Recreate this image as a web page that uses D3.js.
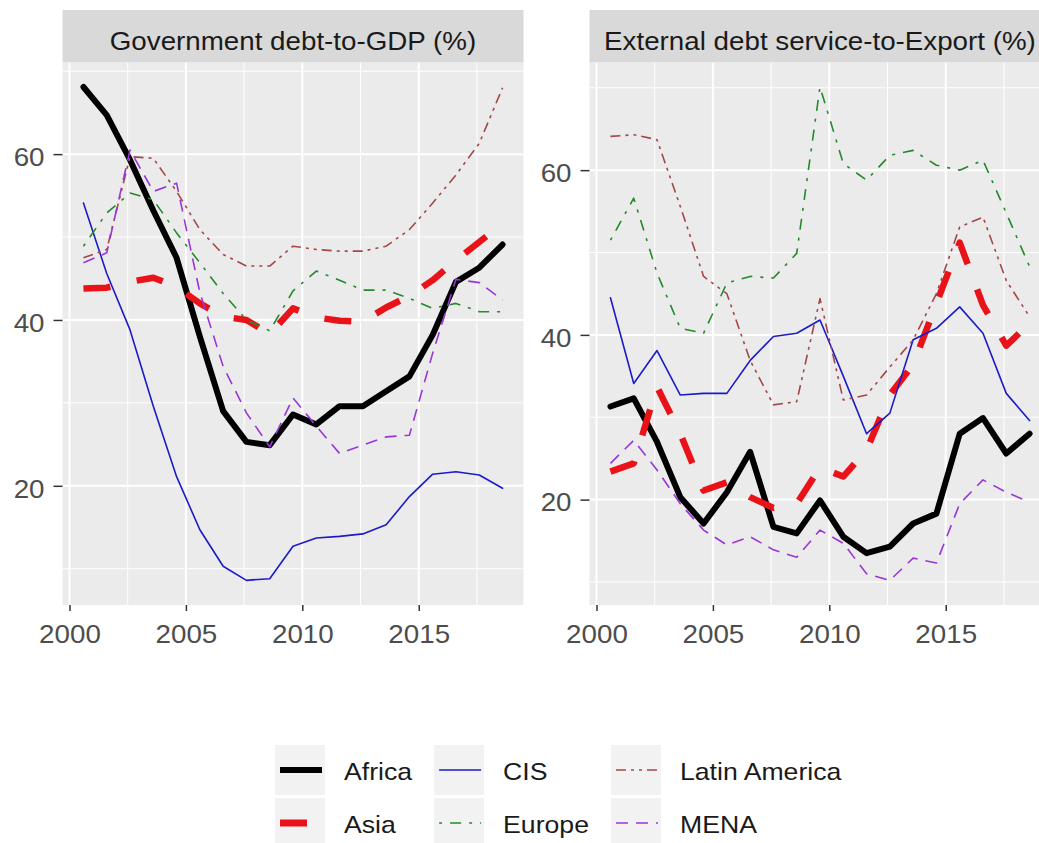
<!DOCTYPE html>
<html>
<head>
<meta charset="utf-8">
<script src="https://cdn.jsdelivr.net/npm/d3@7"></script>
<style>
  body { margin: 0; background: #ffffff; }
  text { font-family: "Liberation Sans", Arial, sans-serif; }
</style>
</head>
<body>
<svg id="chart" width="1039" height="843"></svg>
<script>
// ---- data -------------------------------------------------------------
const years = d3.range(2000, 2019);                 // 2000 ... 2018
const regions = ["Africa", "Asia", "CIS", "Europe", "Latin America", "MENA"];
const panelTitles = ["Government debt-to-GDP (%)", "External debt service-to-Export (%)"];
const xTicks = [2000, 2005, 2010, 2015];
const xMinorTicks = [2002.5, 2007.5, 2012.5, 2017.5];
const yTicks = [20, 40, 60];
const yMinorTicks = [10, 30, 50, 70];

// Government debt-to-GDP (%)
const debtAfrica = [68.1, 64.7, 59.3, 53.2, 47.5, 38.0, 29.0, 25.3, 24.9, 28.6, 27.4, 29.6, 29.6, 31.4, 33.2, 38.2, 44.6, 46.3, 49.1];
const debtAsia   = [43.8, 43.9, 44.6, 45.1, 44.0, 42.0, 40.4, 40.0, 38.3, 41.4, 40.3, 39.9, 39.8, 41.5, 42.9, 44.8, 47.2, 49.4, 51.6];
const debtCIS    = [54.1, 45.6, 38.8, 29.6, 21.1, 14.7, 10.3, 8.6, 8.8, 12.7, 13.7, 13.9, 14.2, 15.3, 18.7, 21.4, 21.7, 21.3, 19.7];
const debtEurope = [48.9, 52.9, 55.3, 54.5, 50.5, 46.9, 43.2, 40.0, 38.7, 43.5, 45.9, 44.8, 43.6, 43.6, 42.6, 41.4, 42.0, 41.0, 41.0];
const debtLatin  = [47.5, 48.5, 59.7, 59.5, 55.5, 50.9, 47.9, 46.5, 46.5, 48.9, 48.5, 48.3, 48.3, 48.9, 50.9, 54.1, 57.5, 61.3, 68.0];
const debtMENA   = [46.9, 48.1, 60.5, 55.5, 56.5, 43.3, 34.4, 28.8, 24.7, 30.6, 27.2, 23.9, 24.9, 25.9, 26.1, 36.0, 44.9, 44.5, 42.4];

// External debt service-to-Export (%)
const servAfrica = [31.3, 32.3, 27.0, 20.3, 17.1, 20.9, 25.8, 16.7, 15.9, 19.9, 15.5, 13.5, 14.3, 17.1, 18.3, 28.0, 29.9, 25.6, 28.0];
const servAsia   = [23.4, 24.4, 33.7, 28.0, 21.1, 22.1, 20.3, 19.0, 19.5, 23.9, 22.8, 26.0, 32.7, 36.4, 43.8, 51.2, 43.6, 38.7, 41.4];
const servCIS    = [44.5, 34.1, 38.1, 32.7, 32.9, 32.9, 36.9, 39.8, 40.2, 41.8, 35.0, 28.0, 30.5, 39.4, 40.8, 43.4, 40.2, 32.9, 29.6];
const servEurope = [51.5, 56.6, 47.5, 40.8, 40.2, 46.3, 47.1, 46.9, 49.9, 70.1, 60.8, 58.8, 61.8, 62.4, 60.6, 60.0, 61.2, 54.8, 48.3];
const servLatin  = [64.1, 64.3, 63.7, 55.6, 47.1, 45.0, 36.9, 31.5, 31.9, 44.4, 32.1, 32.7, 36.1, 39.4, 45.0, 53.1, 54.3, 46.6, 42.2];
const servMENA   = [24.4, 27.2, 23.6, 19.5, 16.3, 14.5, 15.5, 13.9, 13.0, 16.3, 14.7, 11.0, 10.2, 12.9, 12.3, 19.5, 22.4, 20.9, 19.7];

// ---- styles -----------------------------------------------------------
const styles = {
  "Africa":        { color: "#000000", width: 6,   dash: null,             cap: "round" },
  "Asia":          { color: "#ea1219", width: 6.5, dash: "27,27",          cap: "butt"  },
  "CIS":           { color: "#1b1bc9", width: 1.6, dash: null,             cap: "round" },
  "Europe":        { color: "#23892a", width: 1.6, dash: "3,8,11,8",       cap: "butt"  },
  "Latin America": { color: "#a24848", width: 1.6, dash: "10,5,3,5,3,5",   cap: "butt"  },
  "MENA":          { color: "#9a36d8", width: 1.6, dash: "12,8",           cap: "butt"  }
};

const panels = [
  { title: panelTitles[0], series: [debtAfrica, debtAsia, debtCIS, debtEurope, debtLatin, debtMENA] },
  { title: panelTitles[1], series: [servAfrica, servAsia, servCIS, servEurope, servLatin, servMENA] }
];

// ---- layout -----------------------------------------------------------
const SX = 1.11;                 // horizontal glyph stretch of the text
const stripTop = 10, panelTop = 62.3, panelBottom = 605;
const panelLefts = [62.5, 589.5], panelWidth = 461;
const obsOffset = 0.6;           // observations fall part-way through each year

const svg = d3.select("#chart");
svg.append("rect").attr("width", 1039).attr("height", 843).attr("fill", "#ffffff");

function stretch(sel) {
  sel.each(function () {
    const t = d3.select(this);
    const x = +t.attr("x") || 0;
    t.attr("x", x / SX).attr("transform", `scale(${SX},1)`);
  });
}

// ggplot-style 5% expansion of the data range
function expanded(lo, hi) {
  const pad = (hi - lo) * 0.05;
  return [lo - pad, hi + pad];
}

const xObs = years.map(y => y + obsOffset);
const xDomain = expanded(d3.min(xObs), d3.max(xObs));

panels.forEach((p, pi) => {
  const left = panelLefts[pi];
  const x = d3.scaleLinear().domain(xDomain).range([left, left + panelWidth]);
  const all = p.series.flat();
  const y = d3.scaleLinear().domain(expanded(d3.min(all), d3.max(all))).range([panelBottom, panelTop]);

  const g = svg.append("g");

  // panel background
  g.append("rect")
    .attr("x", left).attr("y", panelTop)
    .attr("width", panelWidth).attr("height", panelBottom - panelTop)
    .attr("fill", "#ebebeb");

  // minor grid
  g.selectAll(".gx-minor").data(xMinorTicks).join("line")
    .attr("class", "gx-minor")
    .attr("x1", d => x(d)).attr("x2", d => x(d))
    .attr("y1", panelTop).attr("y2", panelBottom)
    .attr("stroke", "#ffffff").attr("stroke-width", 1);
  g.selectAll(".gy-minor").data(yMinorTicks.filter(v => v > y.domain()[0] && v < y.domain()[1])).join("line")
    .attr("class", "gy-minor")
    .attr("x1", left).attr("x2", left + panelWidth)
    .attr("y1", d => y(d)).attr("y2", d => y(d))
    .attr("stroke", "#ffffff").attr("stroke-width", 1);

  // major grid
  g.selectAll(".gx-major").data(xTicks).join("line")
    .attr("class", "gx-major")
    .attr("x1", d => x(d)).attr("x2", d => x(d))
    .attr("y1", panelTop).attr("y2", panelBottom)
    .attr("stroke", "#ffffff").attr("stroke-width", 2);
  g.selectAll(".gy-major").data(yTicks).join("line")
    .attr("class", "gy-major")
    .attr("x1", left).attr("x2", left + panelWidth)
    .attr("y1", d => y(d)).attr("y2", d => y(d))
    .attr("stroke", "#ffffff").attr("stroke-width", 2);

  // strip
  g.append("rect")
    .attr("x", left).attr("y", stripTop)
    .attr("width", panelWidth).attr("height", panelTop - stripTop)
    .attr("fill", "#d9d9d9");
  g.append("text")
    .attr("x", left + panelWidth / 2).attr("y", 50)
    .attr("text-anchor", "middle")
    .attr("font-size", 25).attr("fill", "#1a1a1a")
    .text(p.title)
    .call(stretch);

  // series lines, clipped to the panel
  const clipId = "clip" + pi;
  svg.append("clipPath").attr("id", clipId)
    .append("rect")
    .attr("x", left).attr("y", panelTop)
    .attr("width", panelWidth).attr("height", panelBottom - panelTop);

  const line = d3.line()
    .x((d, i) => x(xObs[i]))
    .y(d => y(d));

  const lines = g.append("g").attr("clip-path", `url(#${clipId})`);
  regions.forEach((r, ri) => {
    const s = styles[r];
    lines.append("path")
      .datum(p.series[ri])
      .attr("d", line)
      .attr("fill", "none")
      .attr("stroke", s.color)
      .attr("stroke-width", s.width)
      .attr("stroke-dasharray", s.dash)
      .attr("stroke-linecap", s.cap)
      .attr("stroke-linejoin", "round");
  });

  // axes
  const xAxis = g.append("g")
    .attr("transform", `translate(0,${panelBottom})`)
    .call(d3.axisBottom(x).tickValues(xTicks).tickFormat(d3.format("d")).tickSize(6).tickPadding(14));
  const yAxis = g.append("g")
    .attr("transform", `translate(${left},0)`)
    .call(d3.axisLeft(y).tickValues(yTicks).tickFormat(d3.format("d")).tickSize(9).tickPadding(9));

  [xAxis, yAxis].forEach(ax => {
    ax.select(".domain").remove();
    ax.selectAll(".tick line").attr("stroke", "#333333").attr("stroke-width", 1.5);
    ax.selectAll(".tick text")
      .attr("fill", "#4d4d4d")
      .attr("font-size", 25)
      .attr("font-family", "Liberation Sans, Arial, sans-serif")
      .call(stretch);
  });
  yAxis.selectAll(".tick text").attr("dy", "0.45em");
});

// ---- legend -----------------------------------------------------------
const legendColumns = [["Africa", "Asia"], ["CIS", "Europe"], ["Latin America", "MENA"]];
const keySize = 50, rowTops = [745, 798];
const legend = svg.append("g");
let colX = 275;
legendColumns.forEach(col => {
  let maxW = 0;
  col.forEach((name, ri) => {
    const s = styles[name];
    const top = rowTops[ri];
    legend.append("rect")
      .attr("x", colX).attr("y", top)
      .attr("width", keySize).attr("height", keySize)
      .attr("fill", "#f2f2f2");
    legend.append("line")
      .attr("x1", colX + 5).attr("x2", colX + 47)
      .attr("y1", top + keySize / 2).attr("y2", top + keySize / 2)
      .attr("stroke", s.color)
      .attr("stroke-width", name === "Asia" ? 7 : s.width)
      .attr("stroke-dasharray", s.dash)
      .attr("stroke-linecap", "butt");
    const t = legend.append("text")
      .attr("x", colX + keySize + 19)
      .attr("y", top + keySize / 2 + 10.5)
      .attr("font-size", 24)
      .attr("fill", "#1a1a1a")
      .text(name);
    maxW = Math.max(maxW, t.node().getComputedTextLength() * SX);
    t.call(stretch);
  });
  colX = colX + keySize + 19 + maxW + 22;
});
</script>
</body>
</html>
